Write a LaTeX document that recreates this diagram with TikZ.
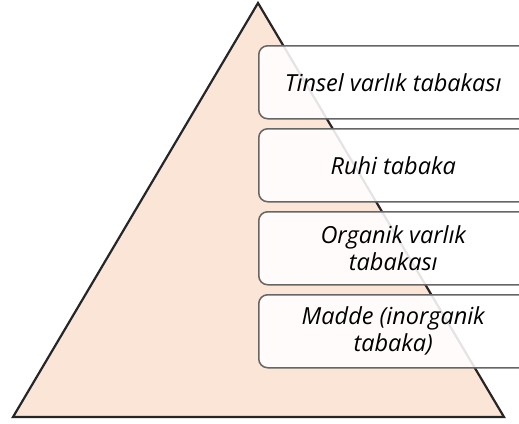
\documentclass[tikz,border=0pt]{standalone}
\usepackage{fontspec}
\setmainfont{Open Sans}
\begin{document}
\begin{tikzpicture}[x=1pt,y=-1pt,
  layerbox/.style={draw=black!60, line width=1.5pt, rounded corners=9pt, fill=white, fill opacity=0.88, text opacity=1, minimum width=269pt, minimum height=73pt, inner sep=0pt, align=center, font=\itshape\fontsize{23.5}{27}\selectfont, anchor=north west}]
\useasboundingbox (0,0) rectangle (519,423);
\clip (0,0) rectangle (519,423);
\definecolor{peach}{RGB}{251,229,214}
\coordinate (apex) at (258,3);
\coordinate (bl) at (13,417);
\coordinate (br) at (504,417);
\draw[fill=peach, draw=black!85, line width=2.2pt, line join=miter] (apex) -- (br) -- (bl) -- cycle;
\node[layerbox] (l1) at (258,45) {Tinsel varlık tabakası};
\node[layerbox] (l2) at (258,128) {Ruhi tabaka};
\node[layerbox] (l3) at (258,211) {Organik varlık\\tabakası};
\node[layerbox] (l4) at (258,294) {Madde (inorganik\\tabaka)};
\end{tikzpicture}
\end{document}
